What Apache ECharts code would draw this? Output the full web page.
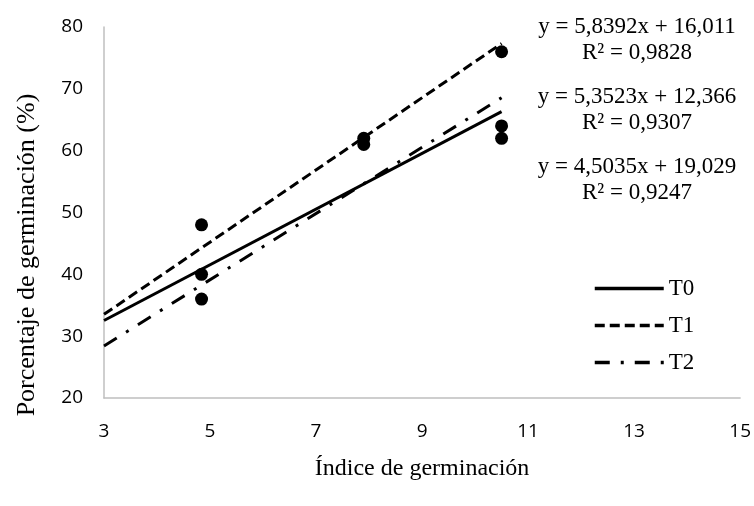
<!DOCTYPE html>
<html>
<head>
<meta charset="utf-8">
<script src="https://cdn.jsdelivr.net/npm/echarts@6/dist/echarts.min.js"></script>
<style>html,body{margin:0;padding:0;background:#fff}#c{width:754px;height:506px}</style>
</head>
<body>
<div id="c"></div>
<script>
// Data
var xTicks = [3, 5, 7, 9, 11, 13, 15];
var yTicks = [20, 30, 40, 50, 60, 70, 80];
var pointsX = [4.84, 4.84, 4.84, 7.9, 7.9, 10.5, 10.5, 10.5];
var pointsY = [48, 40, 36, 62, 61, 76, 64, 62];
var seriesNames = ['T0', 'T1', 'T2'];
var slopes = [4.5035, 5.8392, 5.3523];
var intercepts = [19.029, 16.011, 12.366];
var r2 = ['0,9247', '0,9828', '0,9307'];
var lineRange = [3, 10.5];
var eqOrder = [1, 2, 0]; // order of equations as printed top→bottom

function fmt(v, d) { return v.toFixed(d).replace('.', ','); }

var chart = echarts.init(document.getElementById('c'));
var serif = '"Liberation Serif", "Times New Roman", serif';
var sans = '"Open Sans", "Noto Sans", sans-serif';

var dashTypes = ['solid', [10, 5], [15, 11, 3, 11]];
var series = [];
seriesNames.forEach(function (n, i) {
  series.push({
    name: n,
    type: 'line',
    symbol: 'none',
    silent: true,
    itemStyle: { color: '#000' },
    lineStyle: { color: '#000', width: 3, type: dashTypes[i] },
    data: lineRange.map(function (x) { return [x, slopes[i] * x + intercepts[i]]; }),
    z: 3
  });
});
series.push({
  name: 'data',
  type: 'scatter',
  symbol: 'circle',
  symbolSize: 13,
  itemStyle: { color: '#000', opacity: 1 },
  data: pointsX.map(function (x, i) { return [x, pointsY[i]]; }),
  z: 4
});

var graphics = [];
var eqTop = [14, 84, 154];
eqOrder.forEach(function (si, k) {
  graphics.push({
    type: 'text',
    x: 637, y: eqTop[k],
    style: {
      text: 'y = ' + fmt(slopes[si], 4) + 'x + ' + fmt(intercepts[si], 3) + '\nR² = ' + r2[si],
      font: '23px ' + serif,
      fill: '#000',
      align: 'center',
      lineHeight: 26
    }
  });
});
graphics.push({
  type: 'text',
  x: 27, y: 255,
  rotation: Math.PI / 2,
  style: {
    text: 'Porcentaje de germinación (%)',
    font: '26px ' + serif,
    fill: '#000',
    align: 'center',
    verticalAlign: 'middle'
  }
});

chart.setOption({
  animation: false,
  backgroundColor: '#fff',
  grid: { left: 104, right: 13, top: 27, bottom: 108 },
  xAxis: {
    type: 'value', min: xTicks[0], max: xTicks[xTicks.length - 1], interval: xTicks[1] - xTicks[0],
    name: 'Índice de germinación', nameLocation: 'middle', nameGap: 59,
    nameTextStyle: { fontFamily: serif, fontSize: 24, color: '#000' },
    axisLine: { show: true, lineStyle: { color: '#bfbfbf', width: 1.5 } },
    axisTick: { show: false },
    splitLine: { show: false },
    axisLabel: { fontFamily: sans, fontSize: 19, color: '#000', margin: 24 }
  },
  yAxis: {
    type: 'value', min: yTicks[0], max: yTicks[yTicks.length - 1], interval: yTicks[1] - yTicks[0],
    axisLine: { show: true, lineStyle: { color: '#bfbfbf', width: 1.5 } },
    axisTick: { show: false },
    splitLine: { show: false },
    axisLabel: { fontFamily: sans, fontSize: 19, color: '#000', margin: 21 }
  },
  legend: {
    data: seriesNames,
    orient: 'vertical',
    left: 593, top: 277, padding: 0,
    itemWidth: 69, itemHeight: 14, itemGap: 14,
    itemStyle: { opacity: 0 },
    lineStyle: { width: 3.5 },
    textStyle: { fontFamily: serif, fontSize: 23, color: '#000' },
    selectedMode: false
  },
  graphic: graphics,
  series: series
});
</script>
</body>
</html>
